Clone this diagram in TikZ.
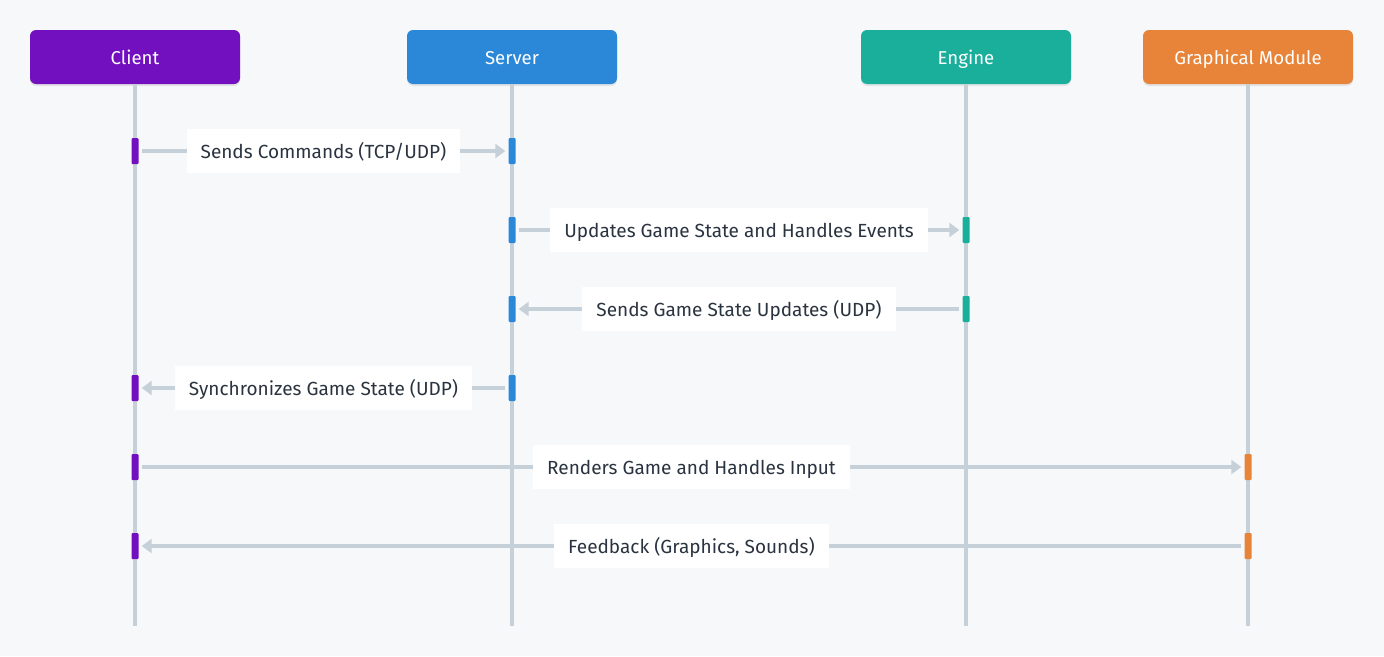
\documentclass[tikz,border=0pt]{standalone}
\usepackage{fontspec}
\setmainfont{Fira Sans}
\usetikzlibrary{arrows.meta,shadows}
\definecolor{bg}{HTML}{F7F8FA}
\definecolor{cclient}{HTML}{7210C0}
\definecolor{cserver}{HTML}{2B88D8}
\definecolor{cengine}{HTML}{1AAF9B}
\definecolor{cgm}{HTML}{E8843A}
\definecolor{cline}{HTML}{C6D0D9}
\definecolor{ctext}{HTML}{2A3340}
\begin{document}
\begin{tikzpicture}[x=1pt,y=-1pt,
  actor/.style={rounded corners=6pt, minimum width=210pt, minimum height=54pt, inner sep=0pt,
    text height=14pt, text depth=0pt,
    text=white, font=\fontsize{18.6}{20}\selectfont,
    drop shadow={shadow xshift=0pt, shadow yshift=-2pt, opacity=0.08, fill=black}},
  life/.style={draw=cline, line width=4pt},
  bar/.style={minimum width=7pt, minimum height=26pt, inner sep=0pt, rounded corners=1pt},
  msg/.style={draw=cline, line width=4pt, -{Triangle[length=10pt,width=14pt]}, shorten >=3pt, shorten <=3pt},
  lbl/.style={fill=white, text=ctext, font=\fontsize{19}{21}\selectfont, inner xsep=14pt, inner ysep=0pt,
    text height=14pt, text depth=0pt, minimum height=44pt}]
\useasboundingbox[fill=bg] (0,0) rectangle (1384,656);

% actors
\node[actor, fill=cclient] (client) at (135,57) {Client};
\node[actor, fill=cserver] (server) at (512,57) {Server};
\node[actor, fill=cengine] (engine) at (966,57) {Engine};
\node[actor, fill=cgm] (gm) at (1248,57) {Graphical Module};

% lifeline ends
\coordinate (clientend) at (135,626);
\coordinate (serverend) at (512,626);
\coordinate (engineend) at (966,626);
\coordinate (gmend) at (1248,626);

\draw[life] (client.south) -- (clientend);
\draw[life] (server.south) -- (serverend);
\draw[life] (engine.south) -- (engineend);
\draw[life] (gm.south) -- (gmend);

% activation bars
\node[bar, fill=cclient] (c1) at (135,151) {};
\node[bar, fill=cserver] (s1) at (512,151) {};
\node[bar, fill=cserver] (s2) at (512,230) {};
\node[bar, fill=cengine] (e2) at (966,230) {};
\node[bar, fill=cserver] (s3) at (512,309) {};
\node[bar, fill=cengine] (e3) at (966,309) {};
\node[bar, fill=cclient] (c4) at (135,388) {};
\node[bar, fill=cserver] (s4) at (512,388) {};
\node[bar, fill=cclient] (c5) at (135,467) {};
\node[bar, fill=cgm] (g5) at (1248,467) {};
\node[bar, fill=cclient] (c6) at (135,546) {};
\node[bar, fill=cgm] (g6) at (1248,546) {};

% messages
\draw[msg] (c1) -- node[lbl] (m1) {Sends Commands (TCP/UDP)} (s1);
\draw[msg] (s2) -- node[lbl] (m2) {Updates Game State and Handles Events} (e2);
\draw[msg] (e3) -- node[lbl] (m3) {Sends Game State Updates (UDP)} (s3);
\draw[msg] (s4) -- node[lbl] (m4) {Synchronizes Game State (UDP)} (c4);
\draw[msg] (c5) -- node[lbl] (m5) {Renders Game and Handles Input} (g5);
\draw[msg] (g6) -- node[lbl] (m6) {Feedback (Graphics, Sounds)} (c6);
\end{tikzpicture}
\end{document}
